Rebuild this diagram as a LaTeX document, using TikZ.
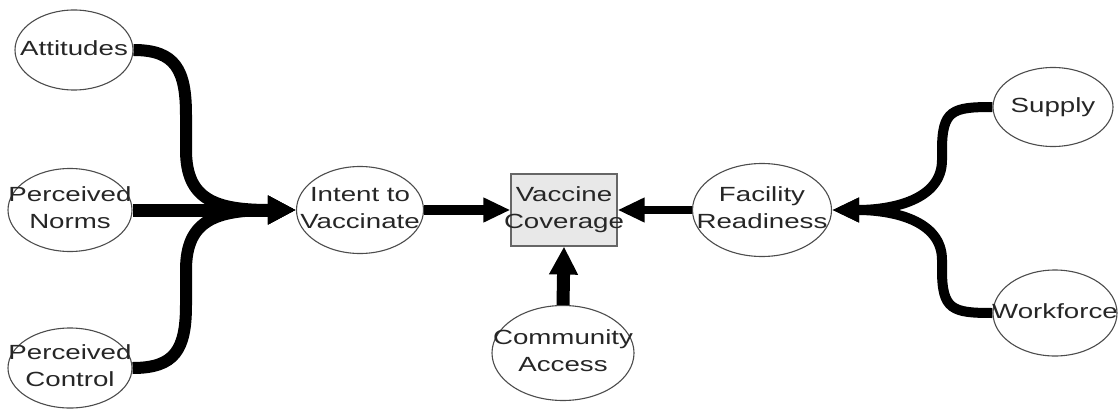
\documentclass[tikz,border=0pt]{standalone}
\usepackage{fontspec}
\setmainfont{Liberation Sans}
\usepackage{graphicx}
\usetikzlibrary{shapes.geometric,arrows.meta}
\newcommand{\lbl}[1]{\makebox[0pt]{\scalebox{1.35}[1]{\begin{tabular}{@{}c@{}}#1\end{tabular}}}}
\begin{document}
\begin{tikzpicture}[x=1pt,y=-1pt,
  oval/.style={ellipse,draw=black!70,line width=1.1pt,inner sep=0pt,text=black!85,
    font=\fontsize{20.5}{27}\selectfont},
  outbox/.style={rectangle,draw=black!60,line width=1.1pt,fill=black!9,inner sep=0pt,text=black!85,
    font=\fontsize{20.5}{27}\selectfont},
  big/.style={line width=13pt,-{Triangle[length=28pt,width=27pt]}},
  curvy/.style={line width=12pt,-{Triangle[length=28pt,width=27pt]}},
  mid/.style={line width=10pt,-{Triangle[length=27pt,width=23pt]}},
  thin/.style={line width=8pt,-{Triangle[length=27pt,width=23pt]}}]
\useasboundingbox (0,0) rectangle (1118,409);
\node[oval,minimum width=118pt,minimum height=80pt] (att) at (74,50) {\lbl{Attitudes}};
\node[oval,minimum width=124pt,minimum height=83pt] (norms) at (70,210) {\lbl{Perceived\\Norms}};
\node[oval,minimum width=124pt,minimum height=80pt] (ctrl) at (70,368) {\lbl{Perceived\\Control}};
\node[oval,minimum width=127pt,minimum height=87pt] (intent) at (360,210) {\lbl{Intent to\\Vaccinate}};
\node[outbox,minimum width=106pt,minimum height=72pt] (cov) at (564,210) {\lbl{Vaccine\\Coverage}};
\node[oval,minimum width=142pt,minimum height=95pt] (comm) at (563,353) {\lbl{Community\\Access}};
\node[oval,minimum width=139pt,minimum height=93pt] (fac) at (762,210) {\lbl{Facility\\Readiness}};
\node[oval,minimum width=120pt,minimum height=79pt] (sup) at (1053,107) {\lbl{Supply}};
\node[oval,minimum width=124pt,minimum height=86pt] (work) at (1055,313) {\lbl{Workforce}};

\draw[curvy] (att.east) .. controls +(42,0) and +(0,-45) .. (186,115) -- (186,150)
  .. controls +(0,50) and +(-80,0) .. (intent.west);
\draw[big] (norms.east) -- (intent.west);
\draw[curvy] (ctrl.east) .. controls +(42,0) and +(0,45) .. (186,305) -- (186,270)
  .. controls +(0,-50) and +(-80,0) .. (intent.west);
\draw[mid] (intent.east) -- (cov.west);
\draw[thin] (fac.west) -- (cov.east);
\draw[big] (comm.north) -- (cov.south);
\draw[mid] (sup.west) .. controls +(-40,0) and +(0,-40) .. (942,150) -- (942,160)
  .. controls +(0,40) and +(60,0) .. (fac.east);
\draw[mid] (work.west) .. controls +(-40,0) and +(0,40) .. (942,270) -- (942,260)
  .. controls +(0,-40) and +(60,0) .. (fac.east);
\end{tikzpicture}
\end{document}
